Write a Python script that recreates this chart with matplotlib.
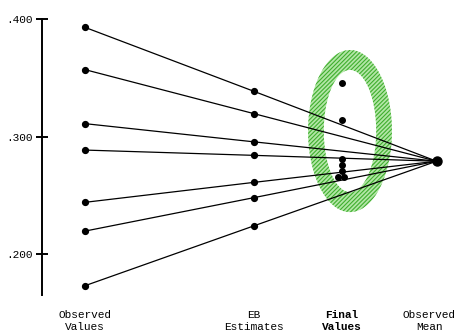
import numpy as np
import matplotlib.pyplot as plt
from matplotlib.path import Path
from matplotlib.patches import PathPatch

plt.rcParams['font.family'] = ['Liberation Mono', 'DejaVu Sans Mono']
plt.rcParams['hatch.linewidth'] = 0.8

# batting averages
observed = [0.393, 0.357, 0.311, 0.2885, 0.244, 0.2195, 0.173]
eb_est = [0.3385, 0.3195, 0.2955, 0.284, 0.261, 0.248, 0.224]
final = [0.3455, 0.314, 0.2805, 0.2755, 0.2705, 0.2655, 0.2655]
final_jitter = [0, 0, 0, 0, 0, -0.022, 0.012]
obs_mean = 0.279

# column positions and labels along the bottom
col_x = [0, 1, 1.52, 2.08]
col_labels = ['Observed\nValues', 'EB\nEstimates', 'Final\nValues', 'Observed\nMean']

fig = plt.figure(figsize=(4.56, 3.35), dpi=100)
ax = fig.add_axes([0.092, 0.119, 0.908, 0.824])

# shrinkage lines: observed -> EB -> mean
for o, e in zip(observed, eb_est):
    ax.plot([col_x[0], col_x[1], col_x[3]], [o, e, obs_mean], color='black', lw=0.9, zorder=2)
ax.plot([col_x[0]] * len(observed), observed, 'o', color='black', ms=4.2, zorder=3)
ax.plot([col_x[1]] * len(eb_est), eb_est, 'o', color='black', ms=4.2, zorder=3)
ax.plot(np.array(col_x[2]) + np.array(final_jitter), final, 'o', color='black', ms=4.0, zorder=3)
ax.plot(col_x[3], obs_mean, 'o', color='black', ms=6.5, zorder=3)

# green scribbled ring around the final values
t = np.linspace(0, 2 * np.pi, 200)
cx, cy = 1.568, 0.3047
outer = np.column_stack([cx + 0.248 * np.cos(t), cy + 0.069 * np.sin(t)])
inner = np.column_stack([cx + 0.155 * np.cos(t[::-1]), cy + 0.052 * np.sin(t[::-1])])
verts = np.vstack([outer, inner])
codes = np.full(len(verts), Path.LINETO)
codes[0] = Path.MOVETO
codes[len(outer)] = Path.MOVETO
ring = PathPatch(Path(verts, codes), facecolor='#b2e6a6', edgecolor='#3fae2e',
                 hatch='////////', lw=0, zorder=1)
ax.add_patch(ring)

ax.set_xlim(-0.254, 2.195)
ax.set_ylim(0.165, 0.400)
ax.set_yticks([0.2, 0.3, 0.4])
ax.set_yticklabels(['.200', '.300', '.400'], fontsize=8)
ax.set_xticks([])
ax.tick_params(axis='y', direction='inout', length=9, width=1.4, pad=2)
for s in ['top', 'right', 'bottom']:
    ax.spines[s].set_visible(False)
ax.spines['left'].set_linewidth(1.4)

for x, lab in zip(col_x[:3], col_labels[:3]):
    w = 'bold' if lab.startswith('Final') else 'normal'
    ax.text(x, -0.055, lab, transform=ax.get_xaxis_transform(), ha='center', va='top',
            fontsize=8, fontweight=w, linespacing=1.25, clip_on=False)
# last label sits against the right edge
ax.text(0.999, -0.055, col_labels[3], transform=ax.transAxes, ha='right', va='top',
        multialignment='center', fontsize=8, linespacing=1.25, clip_on=False)

fig.savefig('out.png', dpi=100)
